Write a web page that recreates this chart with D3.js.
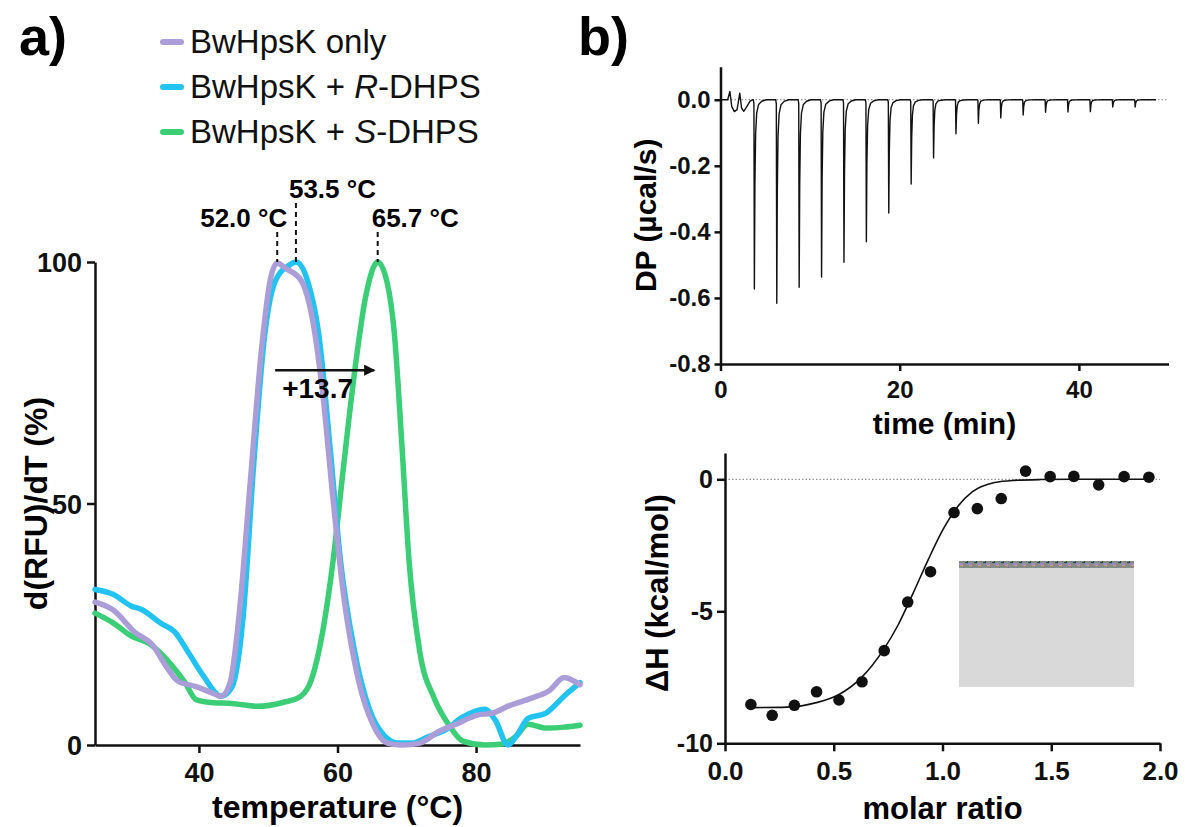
<!DOCTYPE html>
<html lang="en">
<head>
<meta charset="utf-8">
<title>DSF and ITC of BwHpsK</title>
<script src="https://d3js.org/d3.v7.min.js"></script>
<style>
  body { margin: 0; background: #fff; }
  svg { font-family: "Liberation Sans", Arial, Helvetica, sans-serif; }
  .axis path, .axis line { stroke: #111; stroke-width: 2.5px; }
  .axis text { fill: #111; font-weight: bold; }
</style>
</head>
<body>
<div id="chart"></div>
<script>
// ---- panel a: melt curves (temperature, d(RFU)/dT %) ----
var onlyT   = [25,27.6,30.7,33.3,35.4,37,39.6,41.7,43.2,44.5,45.8,47.4,49,50.3,51.3,52.6,54.7,56.25,57.8,59.4,60.9,63,65.1,67.2,69.3,71.9,74.5,77.1,80.2,82.3,84.9,88,90.6,92.7,95];
var onlyV   = [29.6,28,23.4,20.7,16,13.2,12.1,10.9,10.1,12.9,26.9,54.2,81.4,96.3,99.8,98.6,96.3,89.2,73.7,50.3,30.8,13.6,4.3,0.4,0,0.4,2.7,4.3,6.2,6.6,8.2,9.7,11.3,14,12.5];
var rT      = [25,27.6,30.2,31.8,34.4,36.5,38.5,40.6,43.2,44.8,46.4,47.9,49.5,51,53.1,54,55.7,57.3,58.9,60.4,62.5,64.6,66.7,68.75,70.8,72.9,75.5,78.1,81.25,82.8,84.6,85.9,87.5,90.1,92.7,95];
var rV      = [32.2,31.2,28.8,28,25.3,23.4,19.1,14.4,10.1,12.1,26.9,58,85,96,99.4,100,96,85,62,38.6,19.1,7.4,2,0.4,0.4,1.6,3.1,5.8,7.4,5.1,0,2,5.5,6.6,10.1,12.9];
var sT      = [25,27.6,30.2,32.8,35.9,38,39.6,41.7,44.8,48.4,52.1,54.7,56.25,57.8,59.4,60.9,62.5,64.1,65.8,67.2,68.2,69.3,70.3,71.9,73.96,76,78.1,81.25,83.85,85.9,87.5,90.1,92.7,95];
var sV      = [27.3,25.3,22.6,21,16.8,12.9,9.4,8.8,8.6,8,8.8,10.1,13.6,23,38.6,58,77.6,93.1,100,95.5,85.3,62,38.6,19.1,9.7,4.3,0.8,0,0.2,2,4.3,3.5,3.7,4.1];
var seriesNames  = ["BwHpsK only", "BwHpsK + ", "BwHpsK + "];
var seriesItalic = ["", "R", "S"];
var seriesTail   = ["", "-DHPS", "-DHPS"];
var seriesColors = ["#aa9dd8", "#22c3f1", "#3ccd77"];
var peakT     = [51.3, 54.0, 65.8];
var peakLabel = ["52.0 \u00b0C", "53.5 \u00b0C", "65.7 \u00b0C"];
var shiftFrom = 51.0, shiftTo = 65.3, shiftLevel = 77.6, shiftText = "+13.7";
var aXTicks = [40, 60, 80], aYTicks = [0, 50, 100];

// ---- panel b top: raw ITC thermogram ----
var wiggleT = [0, 0.8, 1.05, 1.25, 1.55, 1.85, 2.15, 2.35, 2.6, 2.95, 3.3, 3.6];
var wiggleV = [0, 0, 0.025, -0.02, -0.036, -0.03, 0.02, -0.025, -0.035, -0.02, -0.004, 0];
var injTimes = [3.7,6.2,8.7,11.2,13.7,16.2,18.7,21.2,23.7,26.2,28.7,31.2,33.7,36.2,38.7,41.2,43.7,46.2];
var injDepth = [-0.573,-0.616,-0.568,-0.537,-0.492,-0.43,-0.343,-0.255,-0.176,-0.103,-0.071,-0.055,-0.046,-0.038,-0.037,-0.036,-0.022,-0.022];
var traceEnd = 48.6;
var topXTicks = [0, 20, 40], topYTicks = [0, -0.2, -0.4, -0.6, -0.8];

// ---- panel b bottom: integrated heats ----
var ratio = [0.119,0.217,0.319,0.421,0.524,0.63,0.732,0.84,0.945,1.053,1.16,1.27,1.382,1.495,1.604,1.718,1.835,1.949];
var dH    = [-8.53,-8.94,-8.56,-8.05,-8.36,-7.67,-6.49,-4.65,-3.5,-1.26,-1.11,-0.73,0.31,0.1,0.11,-0.21,0.1,0.08];
var fitX  = [0.12,0.285,0.42,0.524,0.626,0.729,0.797,0.865,0.934,1.002,1.07,1.138,1.24,1.33,1.45,1.6,1.95];
var fitY  = [-8.65,-8.63,-8.46,-8.15,-7.52,-6.45,-5.5,-4.31,-3.05,-1.91,-1.03,-0.47,-0.12,-0.04,-0.01,0,0];
var botXTicks = [0, 0.5, 1, 1.5, 2], botYTicks = [0, -5, -10];

var svg = d3.select("#chart").append("svg")
  .attr("width", 1185).attr("height", 827);

var defs = svg.append("defs");
defs.append("marker").attr("id", "arrow")
  .attr("viewBox", "0 0 10 10").attr("refX", 9).attr("refY", 5)
  .attr("markerWidth", 5).attr("markerHeight", 4.5).attr("orient", "auto")
  .attr("markerUnits", "strokeWidth")
  .append("path").attr("d", "M0,0L10,5L0,10z").attr("fill", "#111");

// noisy strip for the covered inset
var pat = defs.append("pattern").attr("id", "noise")
  .attr("width", 9).attr("height", 7).attr("patternUnits", "userSpaceOnUse");
var noiseCols = ["#7b6b8e", "#8fa076", "#b183a8", "#5f8d9c", "#a0935c", "#3a3a3a", "#c29a9a", "#6f9f8b", "#9a86c4"];
noiseCols.forEach(function(c, i) {
  pat.append("rect").attr("x", (i * 4) % 9).attr("y", (i * 3) % 7)
    .attr("width", 3).attr("height", 2).attr("fill", c);
});

// ================= panel a =================
var xA = d3.scaleLinear().domain([25, 95]).range([95, 580]);
var yA = d3.scaleLinear().domain([0, 100]).range([745, 262]);

var gA = svg.append("g");

gA.append("g").attr("class", "axis")
  .attr("transform", "translate(0," + yA(0) + ")")
  .call(d3.axisBottom(xA).tickValues(aXTicks).tickSize(8).tickPadding(10).tickSizeOuter(0))
  .selectAll("text").style("font-size", "27px");
gA.append("g").attr("class", "axis")
  .attr("transform", "translate(" + xA(25) + ",0)")
  .call(d3.axisLeft(yA).tickValues(aYTicks).tickSize(8).tickPadding(5).tickSizeOuter(0))
  .selectAll("text").style("font-size", "27px").attr("dy", "0.36em");

var lineA = d3.line().curve(d3.curveMonotoneX)
  .x(function(d) { return xA(d[0]); })
  .y(function(d) { return yA(d[1]); });

var curves = [d3.zip(onlyT, onlyV), d3.zip(rT, rV), d3.zip(sT, sV)];
[2, 1, 0].forEach(function(i) {
  gA.append("path").datum(curves[i])
    .attr("d", lineA)
    .attr("fill", "none")
    .attr("stroke", seriesColors[i])
    .attr("stroke-width", 5.5)
    .attr("stroke-linejoin", "round")
    .attr("stroke-linecap", "round");
});

// peak markers
var labelTop  = [232, 203, 232];
var labelBase = [227, 198, 227];
var labelAnchor = ["end", "start", "start"];
var labelShift  = [10, -7, -6];
peakT.forEach(function(t, i) {
  gA.append("line")
    .attr("x1", xA(t)).attr("x2", xA(t))
    .attr("y1", labelTop[i]).attr("y2", yA(100))
    .attr("stroke", "#111").attr("stroke-width", 2)
    .attr("stroke-dasharray", "5,4");
  gA.append("text")
    .attr("x", xA(t) + labelShift[i]).attr("y", labelBase[i])
    .attr("text-anchor", labelAnchor[i])
    .style("font-size", "26px").style("font-weight", "bold")
    .text(peakLabel[i]);
});

gA.append("line")
  .attr("x1", xA(shiftFrom)).attr("x2", xA(shiftTo))
  .attr("y1", yA(shiftLevel)).attr("y2", yA(shiftLevel))
  .attr("stroke", "#111").attr("stroke-width", 2.5)
  .attr("marker-end", "url(#arrow)");
gA.append("text")
  .attr("x", xA(shiftFrom) + 7).attr("y", yA(shiftLevel) + 28)
  .style("font-size", "28px").style("font-weight", "bold")
  .text(shiftText);

gA.append("text")
  .attr("x", (xA(25) + xA(95)) / 2).attr("y", 818)
  .attr("text-anchor", "middle")
  .style("font-size", "32px").style("font-weight", "bold")
  .text("temperature (\u00b0C)");
gA.append("text")
  .attr("transform", "translate(47," + ((yA(0) + yA(100)) / 2) + ") rotate(-90)")
  .attr("text-anchor", "middle")
  .style("font-size", "32px").style("font-weight", "bold")
  .text("d(RFU)/dT (%)");

// legend
var legend = gA.append("g");
seriesNames.forEach(function(n, i) {
  var base = 53 + i * 45;
  legend.append("line")
    .attr("x1", 163).attr("x2", 181)
    .attr("y1", base - 11).attr("y2", base - 11)
    .attr("stroke", seriesColors[i]).attr("stroke-width", 6)
    .attr("stroke-linecap", "round");
  var t = legend.append("text").attr("x", 190).attr("y", base)
    .style("font-size", "33px").attr("fill", "#111");
  t.append("tspan").text(n);
  if (seriesItalic[i]) t.append("tspan").style("font-style", "italic").text(seriesItalic[i]);
  if (seriesTail[i]) t.append("tspan").text(seriesTail[i]);
});

svg.append("text").attr("x", 19).attr("y", 55)
  .style("font-size", "54px").style("font-weight", "bold").text("a)");
svg.append("text").attr("x", 578).attr("y", 55)
  .style("font-size", "54px").style("font-weight", "bold").text("b)");

// ================= panel b top =================
var xT = d3.scaleLinear().domain([0, 50]).range([720.5, 1168.5]);
var yT = d3.scaleLinear().domain([-0.8, 0.1]).range([364, 66.7]);

var gT = svg.append("g");
gT.append("line")
  .attr("x1", xT(0)).attr("x2", xT(50))
  .attr("y1", yT(0)).attr("y2", yT(0))
  .attr("stroke", "#777").attr("stroke-width", 1)
  .attr("stroke-dasharray", "1.5,2");

gT.append("g").attr("class", "axis")
  .attr("transform", "translate(0," + yT(-0.8) + ")")
  .call(d3.axisBottom(xT).tickValues(topXTicks).tickSize(7).tickPadding(10).tickSizeOuter(0))
  .selectAll("text").style("font-size", "24px");
gT.append("g").attr("class", "axis")
  .attr("transform", "translate(" + xT(0) + ",0)")
  .call(d3.axisLeft(yT).tickValues(topYTicks).tickSize(6).tickPadding(4).tickSizeOuter(0)
    .tickFormat(function(d) { return d.toFixed(1).replace("\u2212", "-"); }))
  .selectAll("text").style("font-size", "24px");

// build trace from the read injections
var trace = d3.zip(wiggleT, wiggleV);
var shape = [[-0.04, 0], [0.03, 0.02], [0.08, 1], [0.14, 0.45], [0.22, 0.18], [0.34, 0.07], [0.55, 0.025], [0.9, 0.008], [1.4, 0]];
injTimes.forEach(function(t, i) {
  shape.forEach(function(s) { trace.push([t + s[0], injDepth[i] * s[1]]); });
});
trace.push([traceEnd, 0]);

gT.append("path").datum(trace)
  .attr("d", d3.line().x(function(d) { return xT(d[0]); }).y(function(d) { return yT(d[1]); }))
  .attr("fill", "none").attr("stroke", "#111").attr("stroke-width", 1.4)
  .attr("stroke-linejoin", "round");

gT.append("text")
  .attr("x", (xT(0) + xT(50)) / 2).attr("y", 434)
  .attr("text-anchor", "middle")
  .style("font-size", "30px").style("font-weight", "bold")
  .text("time (min)");
gT.append("text")
  .attr("transform", "translate(656," + ((yT(-0.8) + yT(0.1)) / 2) + ") rotate(-90)")
  .attr("text-anchor", "middle")
  .style("font-size", "30px").style("font-weight", "bold")
  .text("DP (\u00b5cal/s)");

// ================= panel b bottom =================
var xB = d3.scaleLinear().domain([0, 2]).range([725, 1160]);
var yB = d3.scaleLinear().domain([-10, 1]).range([743.3, 452.9]);

var gB = svg.append("g");
gB.append("line")
  .attr("x1", xB(0)).attr("x2", xB(2))
  .attr("y1", yB(0)).attr("y2", yB(0))
  .attr("stroke", "#777").attr("stroke-width", 1)
  .attr("stroke-dasharray", "1.5,2");

gB.append("g").attr("class", "axis")
  .attr("transform", "translate(0," + yB(-10) + ")")
  .call(d3.axisBottom(xB).tickValues(botXTicks).tickSize(8).tickPadding(10).tickSizeOuter(0)
    .tickFormat(function(d) { return d.toFixed(1); }))
  .selectAll("text").style("font-size", "26px");
gB.append("g").attr("class", "axis")
  .attr("transform", "translate(" + xB(0) + ",0)")
  .call(d3.axisLeft(yB).tickValues(botYTicks).tickSize(8).tickPadding(4).tickSizeOuter(0)
    .tickFormat(function(d) { return String(d); }))
  .selectAll("text").style("font-size", "25px");

gB.append("path").datum(d3.zip(fitX, fitY))
  .attr("d", d3.line().curve(d3.curveMonotoneX)
    .x(function(d) { return xB(d[0]); }).y(function(d) { return yB(d[1]); }))
  .attr("fill", "none").attr("stroke", "#111").attr("stroke-width", 1.6);

gB.append("g").selectAll("circle")
  .data(d3.zip(ratio, dH))
  .enter().append("circle")
  .attr("cx", function(d) { return xB(d[0]); })
  .attr("cy", function(d) { return yB(d[1]); })
  .attr("r", 5.8)
  .attr("fill", "#111");

// covered inset
gB.append("rect").attr("x", 959).attr("y", 561).attr("width", 175).attr("height", 126)
  .attr("fill", "#d9d9d9");
gB.append("rect").attr("x", 959).attr("y", 561).attr("width", 175).attr("height", 7)
  .attr("fill", "#8a8a8a");
gB.append("rect").attr("x", 959).attr("y", 561).attr("width", 175).attr("height", 7)
  .attr("fill", "url(#noise)");

gB.append("text")
  .attr("x", (xB(0) + xB(2)) / 2).attr("y", 819)
  .attr("text-anchor", "middle")
  .style("font-size", "31px").style("font-weight", "bold")
  .text("molar ratio");
gB.append("text")
  .attr("transform", "translate(668," + ((yB(-10) + yB(1)) / 2 - 5) + ") rotate(-90)")
  .attr("text-anchor", "middle")
  .style("font-size", "31px").style("font-weight", "bold")
  .text("\u0394H (kcal/mol)");
</script>
</body>
</html>
